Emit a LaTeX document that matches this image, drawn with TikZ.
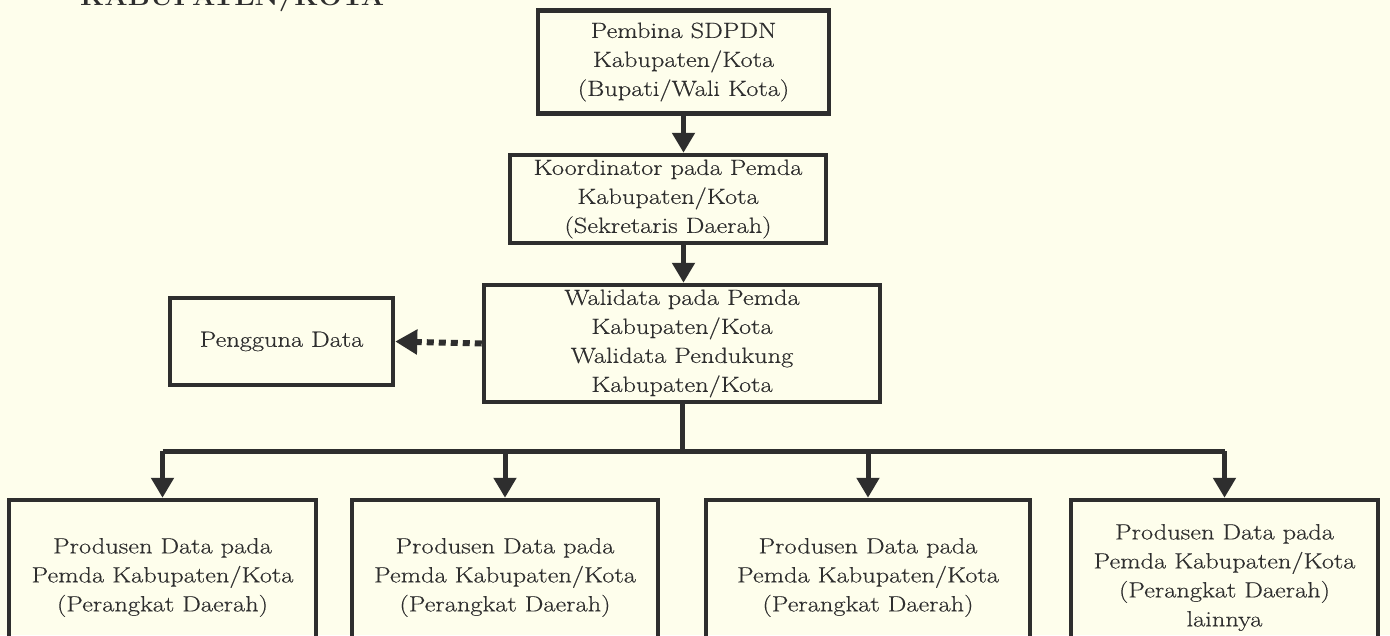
\documentclass[tikz,border=0pt]{standalone}
\usepackage{fontspec}
\usetikzlibrary{arrows.meta}
\newfontfamily\boxfont{Latin Modern Roman}[FakeStretch=1.2, FakeBold=0.4]
\newfontfamily\headfont{Latin Modern Roman}[FakeStretch=1.1]
\definecolor{paper}{HTML}{FEFEEC}
\definecolor{ink}{HTML}{2E2E2E}
\begin{document}
\begin{tikzpicture}[x=1pt,y=-1pt,
  orgbox/.style={draw=ink, line width=4.5pt, align=center, inner sep=0pt,
    text=ink, font=\boxfont\fontsize{22}{29}\selectfont},
  flow/.style={draw=ink, line width=5pt,
    -{Triangle[width=22pt,length=20pt]}},
  hint/.style={draw=ink, line width=6pt, dash pattern=on 7pt off 5pt,
    -{Triangle[width=24pt,length=22pt]}},
  trunk/.style={draw=ink, line width=5pt}]
\fill[paper] (0,0) rectangle (1390,635);
\useasboundingbox (0,0) rectangle (1390,635);
\begin{scope}
\clip (0,0) rectangle (1390,635);

% section heading, cut at the top edge
\node[anchor=base west, text=ink, inner sep=0pt,
  font=\headfont\bfseries\fontsize{25}{30}\selectfont] (head) at (80,5) {KABUPATEN/KOTA};

% chain of command
\node[orgbox, minimum width=291pt, minimum height=103pt] (pembina) at (683.5,62)
  {Pembina SDPDN\\Kabupaten/Kota\\(Bupati/Wali Kota)};
\node[orgbox, minimum width=316pt, minimum height=88pt] (koord) at (668,199)
  {Koordinator pada Pemda\\Kabupaten/Kota\\(Sekretaris Daerah)};
\node[orgbox, minimum width=396pt, minimum height=117pt] (wali) at (682,343.5)
  {Walidata pada Pemda\\Kabupaten/Kota\\Walidata Pendukung\\Kabupaten/Kota};
\node[orgbox, minimum width=223pt, minimum height=87pt] (user) at (281.5,341.5)
  {Pengguna Data};

% data producers
\node[orgbox, minimum width=307pt, minimum height=155pt] (prodA) at (162.5,577.5)
  {Produsen Data pada\\Pemda Kabupaten/Kota\\(Perangkat Daerah)};
\node[orgbox, minimum width=306pt, minimum height=155pt] (prodB) at (505,577.5)
  {Produsen Data pada\\Pemda Kabupaten/Kota\\(Perangkat Daerah)};
\node[orgbox, minimum width=324pt, minimum height=155pt] (prodC) at (868,577.5)
  {Produsen Data pada\\Pemda Kabupaten/Kota\\(Perangkat Daerah)};
\node[orgbox, minimum width=307pt, minimum height=155pt] (prodD) at (1224.5,577.5)
  {Produsen Data pada\\Pemda Kabupaten/Kota\\(Perangkat Daerah)\\lainnya};

% connectors
\draw[flow] (pembina.south) -- (pembina.south |- koord.north);
\draw[flow] (koord.south -| pembina.south) -- (pembina.south |- wali.north);
\draw[hint] (wali.west) -- (user.east);

\coordinate (bus) at (682,451);
\draw[trunk] (wali.south) -- (bus);
\draw[trunk] (prodA.north |- bus) -- (prodD.north |- bus);
\draw[flow] (prodA.north |- bus) -- (prodA.north);
\draw[flow] (prodB.north |- bus) -- (prodB.north);
\draw[flow] (prodC.north |- bus) -- (prodC.north);
\draw[flow] (prodD.north |- bus) -- (prodD.north);
\end{scope}
\end{tikzpicture}
\end{document}
